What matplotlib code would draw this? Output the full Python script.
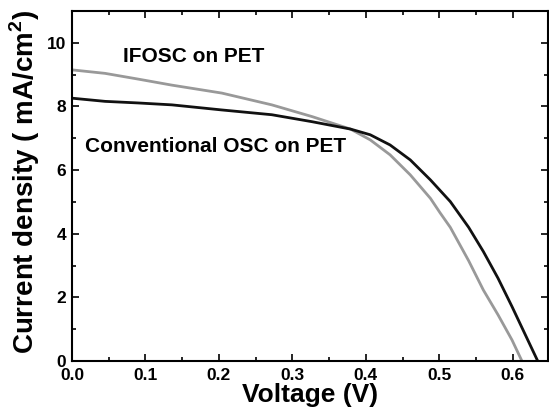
import matplotlib
matplotlib.use("Agg")
import matplotlib.pyplot as plt
from matplotlib.ticker import MultipleLocator

plt.rcParams['font.family'] = ['Liberation Sans', 'DejaVu Sans']
plt.rcParams['mathtext.fontset'] = 'custom'
plt.rcParams['mathtext.bf'] = 'Liberation Sans:bold'
plt.rcParams['mathtext.rm'] = 'Liberation Sans:bold'

# IFOSC on PET (gray)
v_ifosc = [0, 0.045, 0.090, 0.136, 0.204, 0.272, 0.327, 0.379, 0.406, 0.433, 0.4605, 0.488, 0.501, 0.515, 0.540, 0.560, 0.580, 0.599, 0.6125]
j_ifosc = [9.15, 9.04, 8.86, 8.67, 8.42, 8.05, 7.68, 7.29, 6.95, 6.48, 5.85, 5.11, 4.66, 4.20, 3.15, 2.23, 1.45, 0.66, 0.0]

# Conventional OSC on PET (black)
v_conv = [0, 0.045, 0.090, 0.136, 0.204, 0.272, 0.327, 0.379, 0.406, 0.433, 0.4605, 0.488, 0.515, 0.540, 0.560, 0.580, 0.599, 0.634]
j_conv = [8.26, 8.16, 8.11, 8.05, 7.89, 7.74, 7.52, 7.29, 7.11, 6.79, 6.32, 5.69, 5.01, 4.20, 3.44, 2.60, 1.71, 0.0]

x_ticks = [0.0, 0.1, 0.2, 0.3, 0.4, 0.5, 0.6]
y_ticks = [0, 2, 4, 6, 8, 10]

fig = plt.figure(figsize=(5.49, 4.18), dpi=100)
ax = fig.add_axes([72/549, 1-361/418, (548-72)/549, (361-11)/418])

ax.plot(v_ifosc, j_ifosc, color='#999999', lw=2.0, solid_joinstyle='round')
ax.plot(v_conv, j_conv, color='#111111', lw=2.0, solid_joinstyle='round')

ax.set_xlim(0, 0.648)
ax.set_ylim(0, 11)
ax.set_xticks(x_ticks)
ax.set_xticklabels([f"{t:.1f}" for t in x_ticks])
ax.set_yticks(y_ticks)
ax.set_yticklabels([str(t) for t in y_ticks])
ax.xaxis.set_minor_locator(MultipleLocator(0.05))
ax.yaxis.set_minor_locator(MultipleLocator(1))
ax.tick_params(which='both', direction='in', top=True, right=True, width=1.2)
ax.tick_params(which='major', length=5, labelsize=12.5)
ax.tick_params(axis='x', which='major', pad=5)
ax.tick_params(axis='y', which='major', pad=4)
ax.tick_params(which='minor', length=3)
for lab in ax.get_xticklabels() + ax.get_yticklabels():
    lab.set_fontweight('bold')
for s in ax.spines.values():
    s.set_linewidth(1.5)

ax.set_xlabel('Voltage (V)', fontsize=19, fontweight='bold', labelpad=0)
ax.set_ylabel(r'Current density ( mA/cm$^\mathbf{2}$)', fontsize=20, fontweight='bold')
ax.yaxis.set_label_coords(-0.063, 0.512)

ax.text(0.0695, 9.56, 'IFOSC on PET', fontsize=15, fontweight='bold', va='center', ha='left')
ax.text(0.0177, 6.73, 'Conventional OSC on PET', fontsize=15, fontweight='bold', va='center', ha='left')

fig.savefig('out.png', dpi=100)
